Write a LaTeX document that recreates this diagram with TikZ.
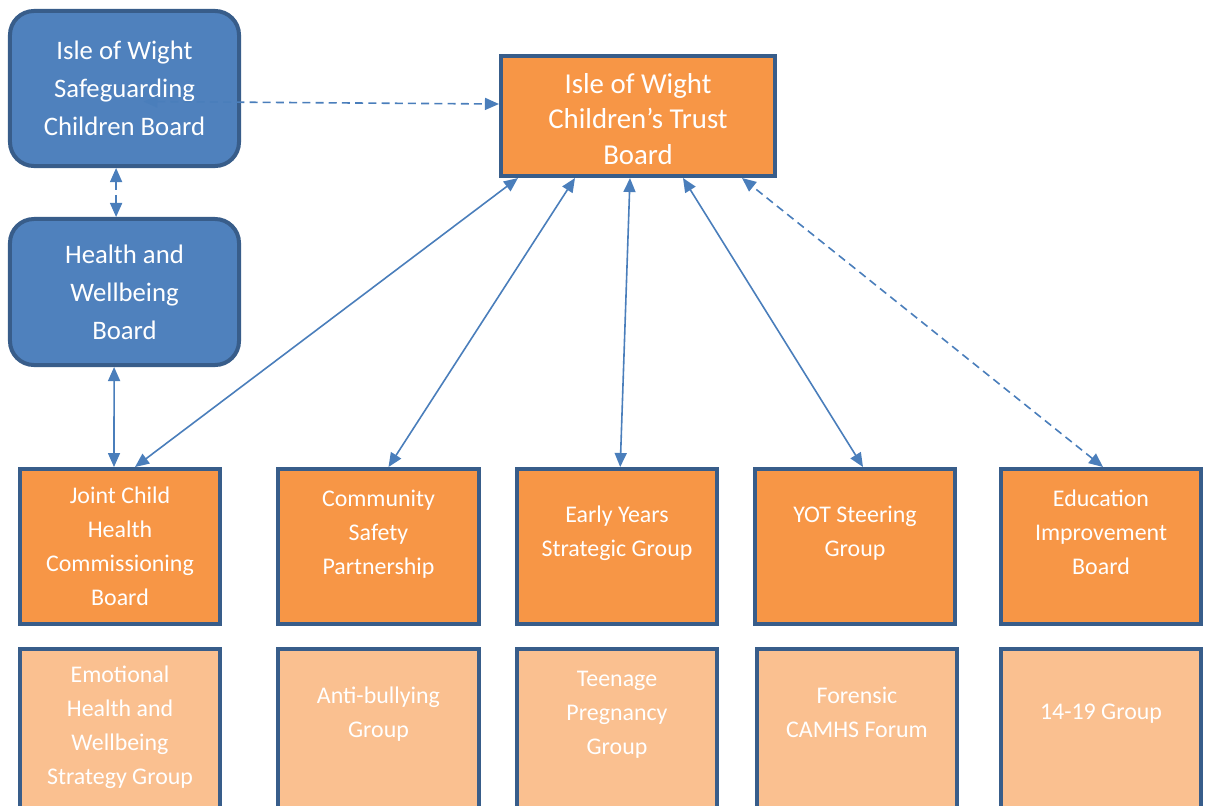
\documentclass[tikz,border=0pt]{standalone}
\usepackage{fontspec}
\setmainfont{Carlito}
\usetikzlibrary{arrows.meta}
\definecolor{boardblue}{HTML}{4F81BD}
\definecolor{edgeblue}{HTML}{385D8A}
\definecolor{trustorange}{HTML}{F79646}
\definecolor{paleorange}{HTML}{FAC090}
\definecolor{linkblue}{HTML}{4A7EBB}
\begin{document}
\begin{tikzpicture}[x=0.025cm,y=-0.025cm,
    board/.style={draw=edgeblue,line width=0.1cm,fill=boardblue,text=white,align=center,
        rounded corners=0.6cm,minimum width=5.725cm,font=\fontsize{19}{27}\selectfont},
    trustbox/.style={draw=edgeblue,line width=0.1cm,fill=trustorange,text=white,align=center,
        anchor=north,inner sep=0pt,minimum width=6.85cm,font=\fontsize{20.5}{25}\selectfont},
    mainbox/.style={draw=edgeblue,line width=0.1cm,fill=trustorange,text=white,align=center,
        anchor=north,inner sep=0pt,minimum width=5cm,font=\fontsize{17}{24}\selectfont},
    subbox/.style={mainbox,fill=paleorange},
    link/.style={linkblue,line width=0.04cm,{Triangle[length=0.35cm,width=0.3cm]}-{Triangle[length=0.35cm,width=0.3cm]}},
    dlink/.style={link,dash pattern=on 0.2cm off 0.13cm}]
    \useasboundingbox (0,0) rectangle (1210,805);

    % Boards
    \node[board,minimum height=3.875cm] (sg) at (124.5,88.5) {Isle of Wight\\Safeguarding\\Children Board};
    \node[board,minimum height=3.65cm] (hw) at (124.5,292) {Health and\\Wellbeing\\Board};
    \node[trustbox,text height=2.7cm,text depth=0.3cm] (trust) at (638,54) {Isle of Wight\\Children’s Trust\\Board};

    % Groups
    \node[mainbox,text height=3.4cm,text depth=0.475cm] (joint) at (120,467) {Joint Child\\Health\\Commissioning\\Board};
    \node[mainbox,text height=2.625cm,text depth=1.25cm] (csp) at (378.5,467) {Community\\Safety\\Partnership};
    \node[mainbox,text height=2.175cm,text depth=1.7cm] (early) at (617,467) {Early Years\\Strategic Group};
    \node[mainbox,text height=2.175cm,text depth=1.7cm] (yot) at (855,467) {YOT Steering\\Group};
    \node[mainbox,text height=2.625cm,text depth=1.25cm] (edu) at (1101,467) {Education\\Improvement\\Board};

    % Sub-groups
    \node[subbox,text height=3.375cm,text depth=1.325cm] (emo) at (120,647) {Emotional\\Health and\\Wellbeing\\Strategy Group};
    \node[subbox,text height=2.2cm,text depth=2.5cm] (bully) at (378.5,647) {Anti-bullying\\Group};
    \node[subbox,text height=2.625cm,text depth=2.075cm] (teen) at (617,647) {Teenage\\Pregnancy\\Group};
    \node[subbox,text height=2.2cm,text depth=2.5cm] (camhs) at (857,647) {Forensic\\CAMHS Forum};
    \node[subbox,text height=1.75cm,text depth=2.95cm] (yrs) at (1101,647) {14-19 Group};

    % Ligações
    \draw[dlink] ([shift={(19,13)}]sg.center) -- ([yshift=0.3cm]trust.west);
    \draw[dlink] ([xshift=-0.21cm]sg.south) -- ([xshift=-0.21cm]hw.north);
    \draw[link] ([xshift=-0.26cm]hw.south) -- ([xshift=-0.15cm]joint.north);
    \draw[link] ([xshift=0.375cm]joint.north) -- ([xshift=-3cm]trust.south);
    \draw[link] ([xshift=0.25cm]csp.north) -- ([xshift=-1.575cm]trust.south);
    \draw[link] ([xshift=0.08cm]early.north) -- ([xshift=-0.2cm]trust.south);
    \draw[link] ([xshift=0.2cm]yot.north) -- ([xshift=1.125cm]trust.south);
    \draw[dlink] ([xshift=0.05cm]edu.north) -- ([xshift=2.6cm]trust.south);
\end{tikzpicture}
\end{document}
